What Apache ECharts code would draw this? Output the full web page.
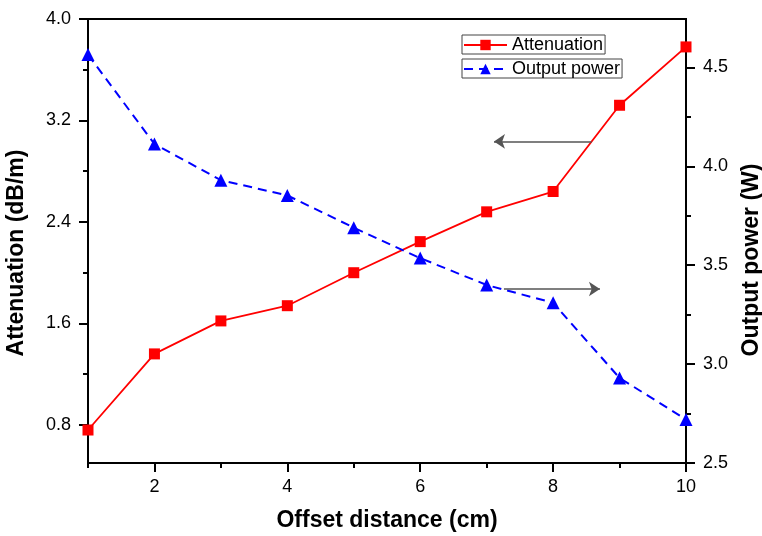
<!DOCTYPE html>
<html>
<head>
<meta charset="utf-8">
<script src="https://cdn.jsdelivr.net/npm/echarts@6/dist/echarts.min.js"></script>
<style>html,body{margin:0;padding:0;background:#fff}#c{width:762px;height:536px}</style>
</head>
<body>
<div id="c"></div>
<script>
// ---- data ----
const offsets = [1, 2, 3, 4, 5, 6, 7, 8, 9, 10];
const attenuation = [0.76, 1.36, 1.62, 1.74, 2.00, 2.245, 2.48, 2.64, 3.32, 3.78];
const outputPower = [4.565, 4.113, 3.93, 3.853, 3.69, 3.536, 3.40, 3.31, 2.93, 2.72];
const xLabels = [2, 4, 6, 8, 10];
const xMinor = [1, 3, 5, 7, 9];
const leftLabels = [0.8, 1.6, 2.4, 3.2, 4.0];
const leftMinor = [1.2, 2.0, 2.8, 3.6];
const rightLabels = [2.5, 3.0, 3.5, 4.0, 4.5];
const rightMinor = [2.75, 3.25, 3.75, 4.25];
// annotation arrows [from, to] in data units
const arrowAtten = [[8.58, 3.035], [7.11, 3.035]];
const arrowPower = [[7.26, 3.38], [8.705, 3.38]];

const FONT = '"Liberation Sans", Arial, sans-serif';
const axisBase = {
  axisLine: { show: true, lineStyle: { color: '#000', width: 2 } },
  splitLine: { show: false },
  axisLabel: { color: '#000', fontSize: 18, fontFamily: FONT, margin: 16 },
  nameTextStyle: { color: '#000', fontSize: 23, fontWeight: 'bold', fontFamily: FONT }
};
function minorAxis(extra) {
  return Object.assign({
    type: 'value',
    axisLine: { show: false },
    axisLabel: { show: false },
    splitLine: { show: false }
  }, extra);
}
const legendBase = {
  orient: 'vertical', left: 462,
  itemWidth: 43, itemHeight: 13, itemGap: 4,
  padding: [1, 2, 0, 1], borderColor: '#444', borderWidth: 1,
  textStyle: { color: '#000', fontSize: 18, fontFamily: FONT }
};

const chart = echarts.init(document.getElementById('c'), null, { renderer: 'canvas' });
chart.setOption({
  animation: false,
  backgroundColor: '#fff',
  grid: { left: 88, right: 76, top: 19, bottom: 73, show: true, borderColor: '#000', borderWidth: 2,
          backgroundColor: 'transparent', containLabel: false, outerBoundsMode: 'none' },
  legend: [
    Object.assign({}, legendBase, { data: ['Attenuation'], top: 35 }),
    Object.assign({}, legendBase, { data: ['Output power'], top: 59 })
  ],
  xAxis: [
    Object.assign({}, axisBase, {
      type: 'value', min: 1, max: 10,
      name: 'Offset distance (cm)', nameLocation: 'middle', nameGap: 46,
      axisTick: { show: true, inside: false, length: 9, customValues: xLabels, lineStyle: { color: '#000', width: 2 } },
      axisLabel: Object.assign({}, axisBase.axisLabel, { customValues: xLabels, margin: 15 })
    }),
    minorAxis({ min: 1, max: 10, position: 'bottom',
      axisTick: { show: true, length: 5, customValues: xMinor, lineStyle: { color: '#000', width: 2 } } })
  ],
  yAxis: [
    Object.assign({}, axisBase, {
      type: 'value', min: 0.5, max: 4.0, position: 'left',
      name: 'Attenuation (dB/m)', nameLocation: 'middle', nameGap: 60, nameRotate: 90,
      nameTextStyle: Object.assign({}, axisBase.nameTextStyle, { padding: [0, 24, 0, 0] }),
      axisTick: { show: true, length: 9, customValues: leftLabels, lineStyle: { color: '#000', width: 2 } },
      axisLabel: Object.assign({}, axisBase.axisLabel, { customValues: leftLabels, margin: 17, formatter: v => v.toFixed(1) })
    }),
    Object.assign({}, axisBase, {
      type: 'value', min: 2.5, max: 4.745, position: 'right',
      name: 'Output power (W)', nameLocation: 'middle', nameGap: 54, nameRotate: 90,
      nameTextStyle: Object.assign({}, axisBase.nameTextStyle, { padding: [0, 38, 0, 0] }),
      axisTick: { show: true, length: 9, customValues: rightLabels, lineStyle: { color: '#000', width: 2 } },
      axisLabel: Object.assign({}, axisBase.axisLabel, { customValues: rightLabels, margin: 17, formatter: v => v.toFixed(1) })
    }),
    minorAxis({ min: 0.5, max: 4.0, position: 'left',
      axisTick: { show: true, length: 5, customValues: leftMinor, lineStyle: { color: '#000', width: 2 } } }),
    minorAxis({ min: 2.5, max: 4.745, position: 'right',
      axisTick: { show: true, length: 5, customValues: rightMinor, lineStyle: { color: '#000', width: 2 } } })
  ],
  series: [
    {
      name: 'Attenuation', type: 'line', xAxisIndex: 0, yAxisIndex: 0,
      data: offsets.map((x, i) => [x, attenuation[i]]),
      symbol: 'rect', symbolSize: 11,
      itemStyle: { color: '#ff0000' },
      lineStyle: { color: '#ff0000', width: 1.8 },
      z: 3,
      markLine: {
        silent: true, symbol: ['none', 'arrow'], symbolSize: 11,
        label: { show: false },
        lineStyle: { color: '#555', width: 1.5, type: 'solid' },
        data: [[{ coord: arrowAtten[0] }, { coord: arrowAtten[1] }]]
      }
    },
    {
      name: 'Output power', type: 'line', xAxisIndex: 0, yAxisIndex: 1,
      data: offsets.map((x, i) => [x, outputPower[i]]),
      symbol: 'triangle', symbolSize: 13,
      itemStyle: { color: '#0000ff' },
      lineStyle: { color: '#0000ff', width: 2, type: [9, 6] },
      z: 3,
      markLine: {
        silent: true, symbol: ['none', 'arrow'], symbolSize: 11,
        label: { show: false },
        lineStyle: { color: '#555', width: 1.5, type: 'solid' },
        data: [[{ coord: arrowPower[0] }, { coord: arrowPower[1] }]]
      }
    }
  ]
});
</script>
</body>
</html>
